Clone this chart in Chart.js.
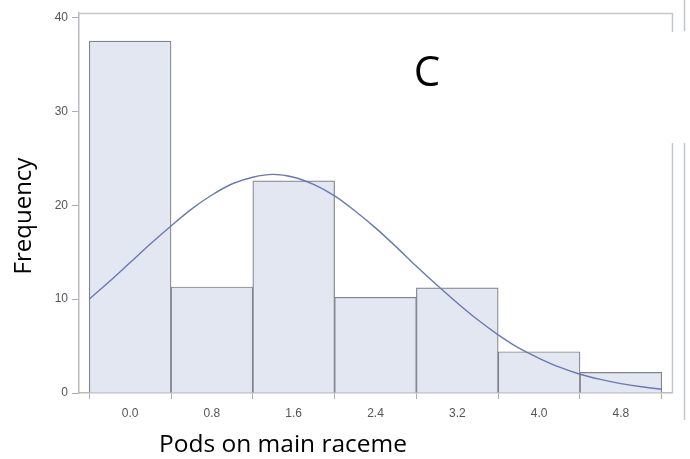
<!DOCTYPE html>
<html><head><meta charset="utf-8">
<script src="https://cdn.jsdelivr.net/npm/chart.js@4.4.1/dist/chart.umd.min.js"></script>
<style>html,body{margin:0;padding:0;background:#fff}canvas{display:block}</style>
</head><body>
<canvas id="c" width="690" height="459"></canvas>
<script>
// Histogram bins (bin centres, width 0.8) and frequencies
const binCenters = [0.0, 0.8, 1.6, 2.4, 3.2, 4.0, 4.8];
const frequencies = [37.5, 11.3, 22.6, 10.2, 11.2, 4.4, 2.2];
// Fitted density curve
const curveX = [-0.4, -0.2, 0.0, 0.2, 0.4, 0.6, 0.8, 1.0, 1.2, 1.4, 1.6, 1.8, 2.0, 2.2, 2.4, 2.6, 2.8, 3.0, 3.2, 3.4, 3.6, 3.8, 4.0, 4.2, 4.4, 4.6, 4.8, 5.0, 5.2];
const curveY = [10.0, 11.9, 13.9, 15.9, 17.8, 19.6, 21.1, 22.3, 23.0, 23.3, 23.0, 22.2, 21.0, 19.4, 17.6, 15.6, 13.5, 11.5, 9.6, 7.8, 6.2, 4.8, 3.7, 2.75, 2.0, 1.45, 1.0, 0.66, 0.4];
const xTickValues = [0.0, 0.8, 1.6, 2.4, 3.2, 4.0, 4.8];
const yTickValues = [0, 10, 20, 30, 40];
const xTitle = 'Pods on main raceme';
const yTitle = 'Frequency';
const panelLabel = 'C';

const barData = binCenters.map((x, i) => ({x: x, y: frequencies[i]}));
const curveData = curveX.map((x, i) => ({x: x, y: curveY[i]}));

const decor = {
  id: 'decor',
  afterDraw(chart) {
    const ctx = chart.ctx, a = chart.chartArea;
    ctx.save();
    ctx.strokeStyle = '#c4c7cc';
    ctx.lineWidth = 1.5;
    ctx.beginPath();
    ctx.moveTo(a.left, a.top + 0.5);
    ctx.lineTo(a.right + 0.5, a.top + 0.5);
    ctx.lineTo(a.right + 0.5, 32);
    ctx.moveTo(a.right + 0.5, 143);
    ctx.lineTo(a.right + 0.5, a.bottom);
    ctx.moveTo(684.5, 0); ctx.lineTo(684.5, 31);
    ctx.moveTo(684.5, 143); ctx.lineTo(684.5, 420);
    ctx.stroke();
    ctx.fillStyle = '#000';
    ctx.textAlign = 'center';
    ctx.textBaseline = 'alphabetic';
    ctx.font = '42px "Open Sans"';
    ctx.fillText(panelLabel, 427, 86);
    ctx.font = '24.5px "Open Sans"';
    ctx.fillText(xTitle, 283, 452);
    ctx.font = '24px "Open Sans"';
    ctx.translate(31, 216);
    ctx.rotate(-Math.PI / 2);
    ctx.fillText(yTitle, 0, 0);
    ctx.restore();
  }
};

new Chart(document.getElementById('c'), {
  type: 'bar',
  data: {
    datasets: [
      {
        type: 'line',
        data: curveData,
        borderColor: '#6b79b2',
        borderWidth: 1.4,
        pointRadius: 0,
        tension: 0.3,
        fill: false,
        order: 0
      },
      {
        type: 'bar',
        data: barData,
        backgroundColor: '#e3e7f1',
        borderColor: '#808389',
        borderWidth: 1.2,
        barPercentage: 1.0,
        categoryPercentage: 1.0,
        order: 1
      }
    ]
  },
  options: {
    responsive: false,
    animation: false,
    devicePixelRatio: 1,
    layout: {padding: {top: 13, right: 18, left: 0, bottom: 0}},
    plugins: {legend: {display: false}, tooltip: {enabled: false}},
    scales: {
      x: {
        type: 'linear',
        min: -0.5,
        max: 5.3,
        offset: false,
        afterBuildTicks: (s) => { s.ticks = xTickValues.map(v => ({value: v})); },
        afterFit: (s) => { s.height = 66; },
        grid: {drawOnChartArea: false, drawTicks: true, tickLength: 6, color: '#a9adb3'},
        border: {display: true, color: '#b8bcc2', width: 1.5},
        ticks: {
          color: '#555',
          font: {family: 'Liberation Sans', size: 12},
          padding: 7,
          maxRotation: 0,
          callback: (v) => v.toFixed(1)
        }
      },
      y: {
        type: 'linear',
        min: 0,
        max: 40.5,
        afterBuildTicks: (s) => { s.ticks = yTickValues.map(v => ({value: v})); },
        afterFit: (s) => { s.width = 79; },
        grid: {drawOnChartArea: false, drawTicks: true, tickLength: 7, color: '#a9adb3'},
        border: {display: true, color: '#b8bcc2', width: 1.5},
        ticks: {
          color: '#555',
          font: {family: 'Liberation Sans', size: 12},
          padding: 4
        }
      }
    }
  },
  plugins: [decor]
});
</script>
</body></html>
